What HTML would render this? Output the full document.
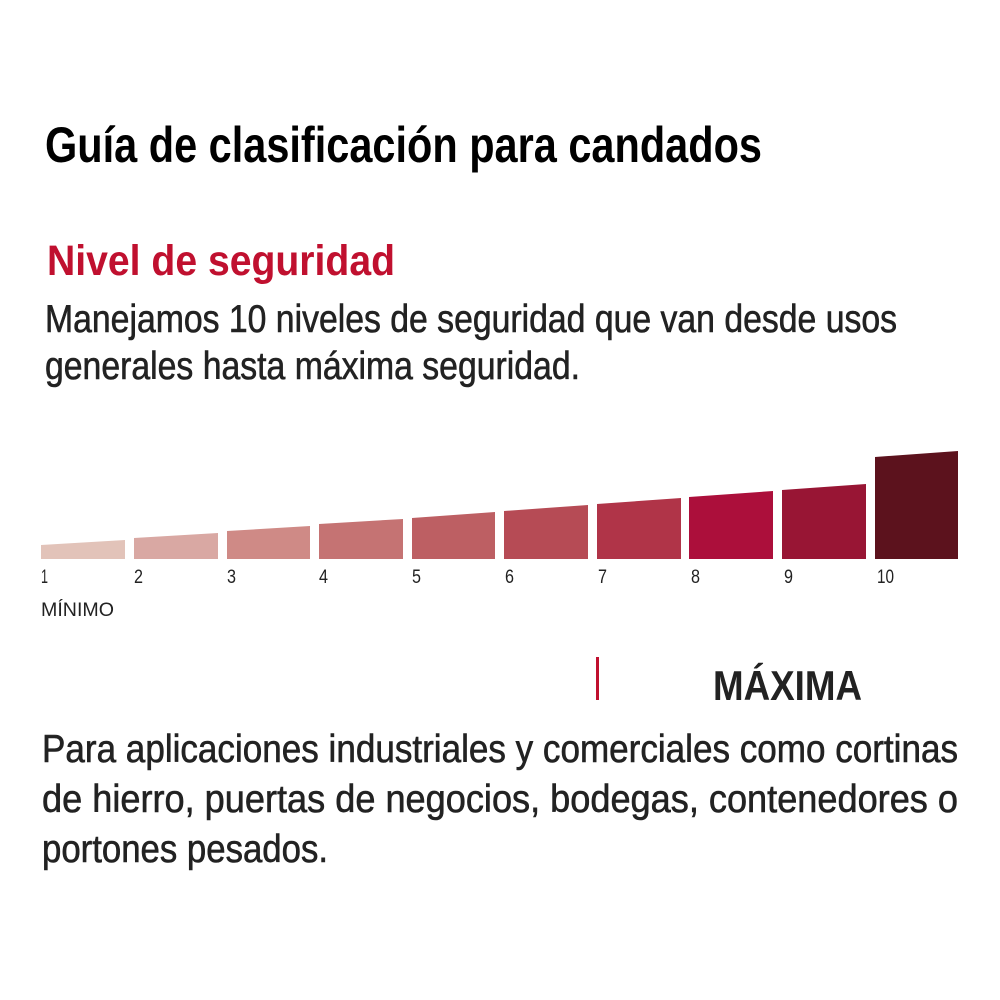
<!DOCTYPE html>
<html><head><meta charset="utf-8"><style>
html,body{margin:0;padding:0;background:#fff;}
svg{display:block;}
text{font-family:"Liberation Sans",sans-serif;}
</style></head><body>
<svg width="1000" height="1000" viewBox="0 0 1000 1000" xmlns="http://www.w3.org/2000/svg">
<rect width="1000" height="1000" fill="#fff"/>
<text x="45" y="162" font-size="50" font-weight="bold" fill="#000" textLength="717" lengthAdjust="spacingAndGlyphs">Guía de clasificación para candados</text>
<text x="47" y="275" font-size="43" font-weight="bold" fill="#c0102f" textLength="348" lengthAdjust="spacingAndGlyphs">Nivel de seguridad</text>
<g fill="#222" stroke="#222" stroke-width="0.6">
<text x="45" y="332" font-size="39" textLength="852" lengthAdjust="spacingAndGlyphs">Manejamos 10 niveles de seguridad que van desde usos</text>
<text x="45" y="379" font-size="39" textLength="535" lengthAdjust="spacingAndGlyphs">generales hasta máxima seguridad.</text>
<text x="42" y="762" font-size="39" textLength="916" lengthAdjust="spacingAndGlyphs">Para aplicaciones industriales y comerciales como cortinas</text>
<text x="42" y="812" font-size="39" textLength="916" lengthAdjust="spacingAndGlyphs">de hierro, puertas de negocios, bodegas, contenedores o</text>
<text x="42" y="862" font-size="39" textLength="286" lengthAdjust="spacingAndGlyphs">portones pesados.</text>
</g>
<g>
<polygon points="41,545 125,540 125,559 41,559" fill="#e2c3b9"/>
<polygon points="134,538 218,533 218,559 134,559" fill="#d9a8a3"/>
<polygon points="227,531 310,526 310,559 227,559" fill="#cf8a86"/>
<polygon points="319,524 403,519 403,559 319,559" fill="#c57373"/>
<polygon points="412,518 495,512 495,559 412,559" fill="#bd5f63"/>
<polygon points="504,511 588,505 588,559 504,559" fill="#b64b55"/>
<polygon points="597,504 681,498 681,559 597,559" fill="#b03448"/>
<polygon points="689,497 773,491 773,559 689,559" fill="#ac0f3b"/>
<polygon points="782,490 866,484 866,559 782,559" fill="#981534"/>
<polygon points="875,457 958,451 958,559 875,559" fill="#5c121d"/>
</g>
<g font-size="19" fill="#222">
<text x="41" y="583" textLength="7" lengthAdjust="spacingAndGlyphs">1</text>
<text x="134" y="583" textLength="9" lengthAdjust="spacingAndGlyphs">2</text>
<text x="227" y="583" textLength="9" lengthAdjust="spacingAndGlyphs">3</text>
<text x="319" y="583" textLength="9" lengthAdjust="spacingAndGlyphs">4</text>
<text x="412" y="583" textLength="9" lengthAdjust="spacingAndGlyphs">5</text>
<text x="505" y="583" textLength="9" lengthAdjust="spacingAndGlyphs">6</text>
<text x="598" y="583" textLength="9" lengthAdjust="spacingAndGlyphs">7</text>
<text x="691" y="583" textLength="9" lengthAdjust="spacingAndGlyphs">8</text>
<text x="784" y="583" textLength="9" lengthAdjust="spacingAndGlyphs">9</text>
<text x="877" y="583" textLength="17" lengthAdjust="spacingAndGlyphs">10</text>
<text x="41" y="616" textLength="73" lengthAdjust="spacingAndGlyphs">MÍNIMO</text>
</g>
<rect x="596" y="657" width="3" height="43" fill="#c0102f"/>
<text x="713" y="700" font-size="42" font-weight="bold" fill="#222" textLength="149" lengthAdjust="spacingAndGlyphs">MÁXIMA</text>
</svg>
</body></html>
